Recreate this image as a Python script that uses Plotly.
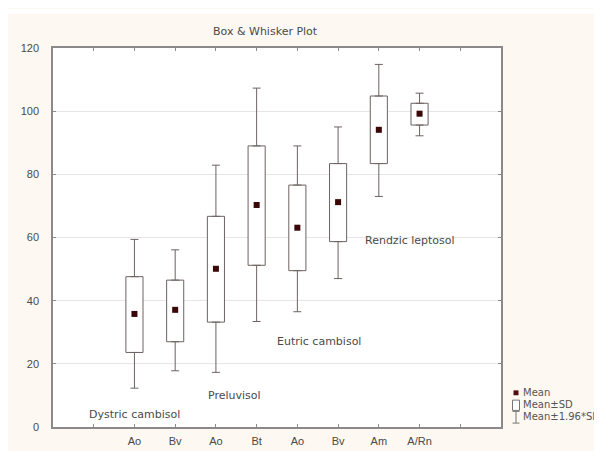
import plotly.graph_objects as go

categories = ["Ao", "Bv", "Ao", "Bt", "Ao", "Bv", "Am", "A/Rn"]
means = [35.8, 37.1, 50.1, 70.3, 63.1, 71.2, 94.1, 99.2]
sd_low = [23.6, 27.0, 33.2, 51.2, 49.5, 58.7, 83.4, 95.6]
sd_high = [47.6, 46.5, 66.7, 89.0, 76.6, 83.4, 104.8, 102.5]
ci_low = [12.3, 17.8, 17.3, 33.4, 36.5, 47.0, 73.0, 92.2]
ci_high = [59.4, 56.1, 82.9, 107.3, 89.0, 95.0, 114.8, 105.7]

group_labels = ["Dystric cambisol", "Preluvisol", "Eutric cambisol", "Rendzic leptosol"]
group_label_x = [1.0, 3.46, 5.52, 7.77]
group_label_y = [4.0, 10.0, 27.2, 59.0]

positions = list(range(1, len(categories) + 1))
tick_vals = list(range(0, len(categories) + 2))
tick_text = [""] + categories + [""]

W, H = 602, 451
L, R, T, B = 45, 109, 40, 23
pw, ph = W - L - R, H - T - B

def px(x):
    return (x - L) / pw

def py(y):
    return (H - B - y) / ph

sans = "Liberation Sans, Arial, sans-serif"
wide = "DejaVu Sans, Verdana, sans-serif"
box_line = "#6e6262"
txt_col = "#4a4a4a"

fig = go.Figure()
# upper whiskers
fig.add_trace(go.Scatter(
    x=positions, y=sd_high, mode="markers",
    marker=dict(size=1, color="rgba(0,0,0,0)"),
    error_y=dict(type="data", symmetric=False,
                 array=[h - s for h, s in zip(ci_high, sd_high)],
                 arrayminus=[0] * len(categories),
                 color=box_line, thickness=1, width=4),
    showlegend=False, hoverinfo="skip",
))
# lower whiskers
fig.add_trace(go.Scatter(
    x=positions, y=sd_low, mode="markers",
    marker=dict(size=1, color="rgba(0,0,0,0)"),
    error_y=dict(type="data", symmetric=False,
                 array=[0] * len(categories),
                 arrayminus=[s - l for s, l in zip(sd_low, ci_low)],
                 color=box_line, thickness=1, width=4),
    showlegend=False, hoverinfo="skip",
))
# boxes (mean ± SD)
fig.add_trace(go.Bar(
    x=positions,
    base=sd_low,
    y=[h - l for h, l in zip(sd_high, sd_low)],
    width=0.42,
    marker=dict(color="white", line=dict(color=box_line, width=1)),
    showlegend=False, hoverinfo="skip",
))
# means
fig.add_trace(go.Scatter(
    x=positions, y=means, mode="markers",
    marker=dict(symbol="square", size=6, color="#3a0606"),
    showlegend=False, hoverinfo="skip",
))

for t, x, y in zip(group_labels, group_label_x, group_label_y):
    fig.add_annotation(x=x, y=y, text=t, showarrow=False,
                       font=dict(family=wide, size=11, color=txt_col),
                       xanchor="center", yanchor="middle")

fig.add_annotation(xref="paper", yref="paper", x=px(257.5), y=py(23),
                   text="Box & Whisker Plot", showarrow=False,
                   font=dict(family=wide, size=11, color=txt_col),
                   xanchor="center", yanchor="middle")

# legend (drawn manually)
leg_font = dict(family=wide, size=10, color="#555")
fig.add_shape(type="rect", xref="paper", yref="paper",
              x0=px(505.5), x1=px(510.5), y0=py(395.5), y1=py(390.5),
              fillcolor="#5a0a0a", line=dict(width=0))
fig.add_shape(type="rect", xref="paper", yref="paper",
              x0=px(504.5), x1=px(511.5), y0=py(411), y1=py(400.5),
              fillcolor="white", line=dict(color="#777", width=1))
fig.add_shape(type="line", xref="paper", yref="paper",
              x0=px(508), x1=px(508), y0=py(412), y1=py(424),
              line=dict(color="#777", width=1))
for yy in (412, 424):
    fig.add_shape(type="line", xref="paper", yref="paper",
                  x0=px(504.5), x1=px(511.5), y0=py(yy), y1=py(yy),
                  line=dict(color="#777", width=1))
for txt, yy in (("Mean", 393), ("Mean±SD", 405), ("Mean±1.96*SD", 417)):
    fig.add_annotation(xref="paper", yref="paper", x=px(513), y=py(yy),
                       text=txt, showarrow=False, font=leg_font,
                       xanchor="left", yanchor="middle")

# white strip at top of image
fig.add_shape(type="rect", xref="paper", yref="paper",
              x0=px(0), x1=px(W), y0=py(0), y1=py(5),
              fillcolor="white", line=dict(width=0), layer="below")

fig.update_layout(
    width=W, height=H,
    margin=dict(l=L, r=R, t=T, b=B, pad=0),
    paper_bgcolor="#fdf8f1",
    plot_bgcolor="white",
    showlegend=False,
    font=dict(family=sans, size=10, color=txt_col),
)
fig.update_xaxes(
    range=[-1, len(categories) + 2],
    tickmode="array", tickvals=tick_vals, ticktext=tick_text,
    showgrid=False, zeroline=False,
    showline=True, linecolor="#8a8a8a", linewidth=1.5, mirror="ticks",
    ticks="inside", ticklen=3, tickcolor="#8a8a8a",
    ticklabelstandoff=3,
    tickfont=dict(family=sans, size=11, color=txt_col),
)
fig.update_yaxes(
    range=[0, 120], tickvals=[0, 20, 40, 60, 80, 100, 120],
    showgrid=True, gridcolor="#e6e6e6", gridwidth=1, zeroline=False,
    showline=True, linecolor="#8a8a8a", linewidth=1.5, mirror="ticks",
    ticks="inside", ticklen=3, tickcolor="#8a8a8a",
    ticklabelstandoff=10,
    tickfont=dict(family=sans, size=11, color=txt_col),
)

fig.write_html("out.html")
